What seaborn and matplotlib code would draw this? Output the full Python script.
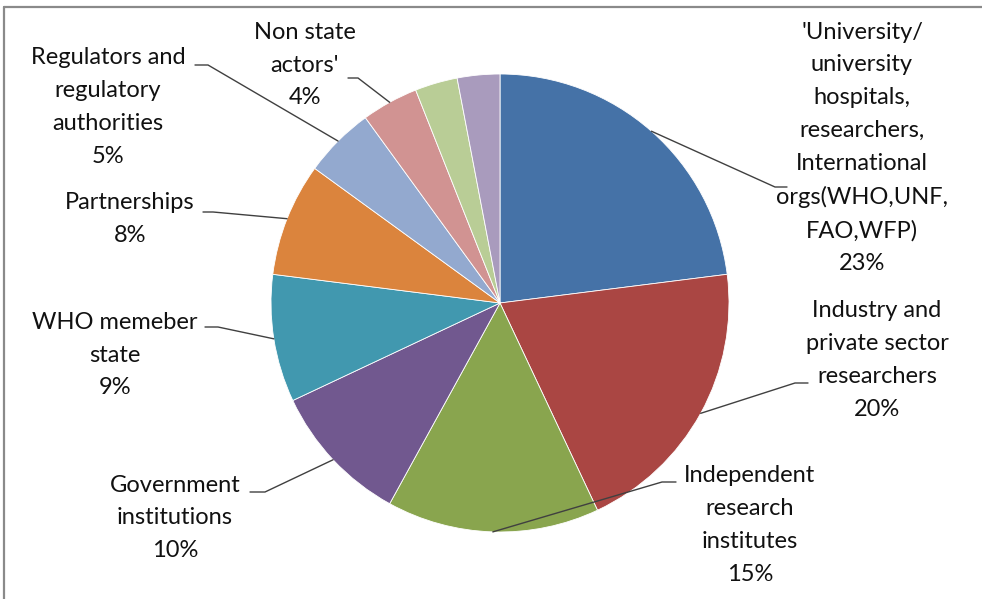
import matplotlib
matplotlib.use("Agg")
import matplotlib.pyplot as plt
import seaborn as sns
import numpy as np
from matplotlib.lines import Line2D

sns.set_theme(style="white")
plt.rcParams['font.family'] = ['Lato', 'DejaVu Sans']

# ---- data ----
categories = [
    "'University/\nuniversity\nhospitals,\nresearchers,\nInternational\norgs(WHO,UNF,\nFAO,WFP)",
    "Industry and\nprivate sector\nresearchers",
    "Independent\nresearch\ninstitutes",
    "Government\ninstitutions",
    "WHO memeber\nstate",
    "Partnerships",
    "Regulators and\nregulatory\nauthorities",
    "Non state\nactors'",
    "",
    "",
]
values = [23, 20, 15, 10, 9, 8, 5, 4, 3, 3]
colors = ["#4572A7", "#AA4643", "#89A54E", "#71588F", "#4198AF",
          "#DB843D", "#93A9CF", "#D19392", "#B9CD96", "#A99BBD"]

# label layout (image pixel coords): text centre, elbow, end of leader
text_pos = [(862, 148), (877, 360), (750, 525), (175, 518), (115, 355),
            (130, 219), (108, 107), (305, 65)]
elbow = [(775, 187), (795, 383), (662, 482), (265, 492), (218, 327),
         (213, 212), (208, 65), (358, 78)]
leader_end = [(787, 187), (808, 383), (676, 482), (250, 492), (205, 327),
              (203, 212), (195, 65), (348, 78)]

W, H = 982, 599
fig = plt.figure(figsize=(W / 100, H / 100), dpi=100)
ax = fig.add_axes([0, 0, 1, 1])

cx, cy, R = 500, 303, 229
def Y(y):
    return H - y

wedges, _ = ax.pie(values, colors=colors, startangle=90, counterclock=False,
                   center=(cx, Y(cy)), radius=R,
                   wedgeprops=dict(linewidth=0.6, edgecolor="white"))
ax.set_xlim(0, W)
ax.set_ylim(0, H)
ax.set_aspect("equal")
ax.axis("off")

total = sum(values)
for i, lab in enumerate(categories):
    if not lab:
        continue
    w = wedges[i]
    mid = np.deg2rad((w.theta1 + w.theta2) / 2)
    sx = cx + R * np.cos(mid)
    sy = Y(cy) + R * np.sin(mid)
    ex, ey = elbow[i]
    lx, ly = leader_end[i]
    ax.plot([sx, ex, lx], [sy, Y(ey), Y(ly)], color="#404040", lw=1.0,
            solid_joinstyle="miter")
    pct = f"{values[i] / total * 100:.0f}%"
    tx, ty = text_pos[i]
    ax.text(tx, Y(ty), lab + "\n" + pct, ha="center", va="center",
            multialignment="center", fontsize=17, color="#111111",
            linespacing=1.69)

# outer frame (top and left visible)
fig.add_artist(Line2D([4 / W, 1], [1 - 7 / H, 1 - 7 / H], color="#8a8a8a", lw=1.6))
fig.add_artist(Line2D([4 / W, 4 / W], [0, 1 - 7 / H], color="#8a8a8a", lw=1.6))

fig.savefig("out.png", dpi=100)
